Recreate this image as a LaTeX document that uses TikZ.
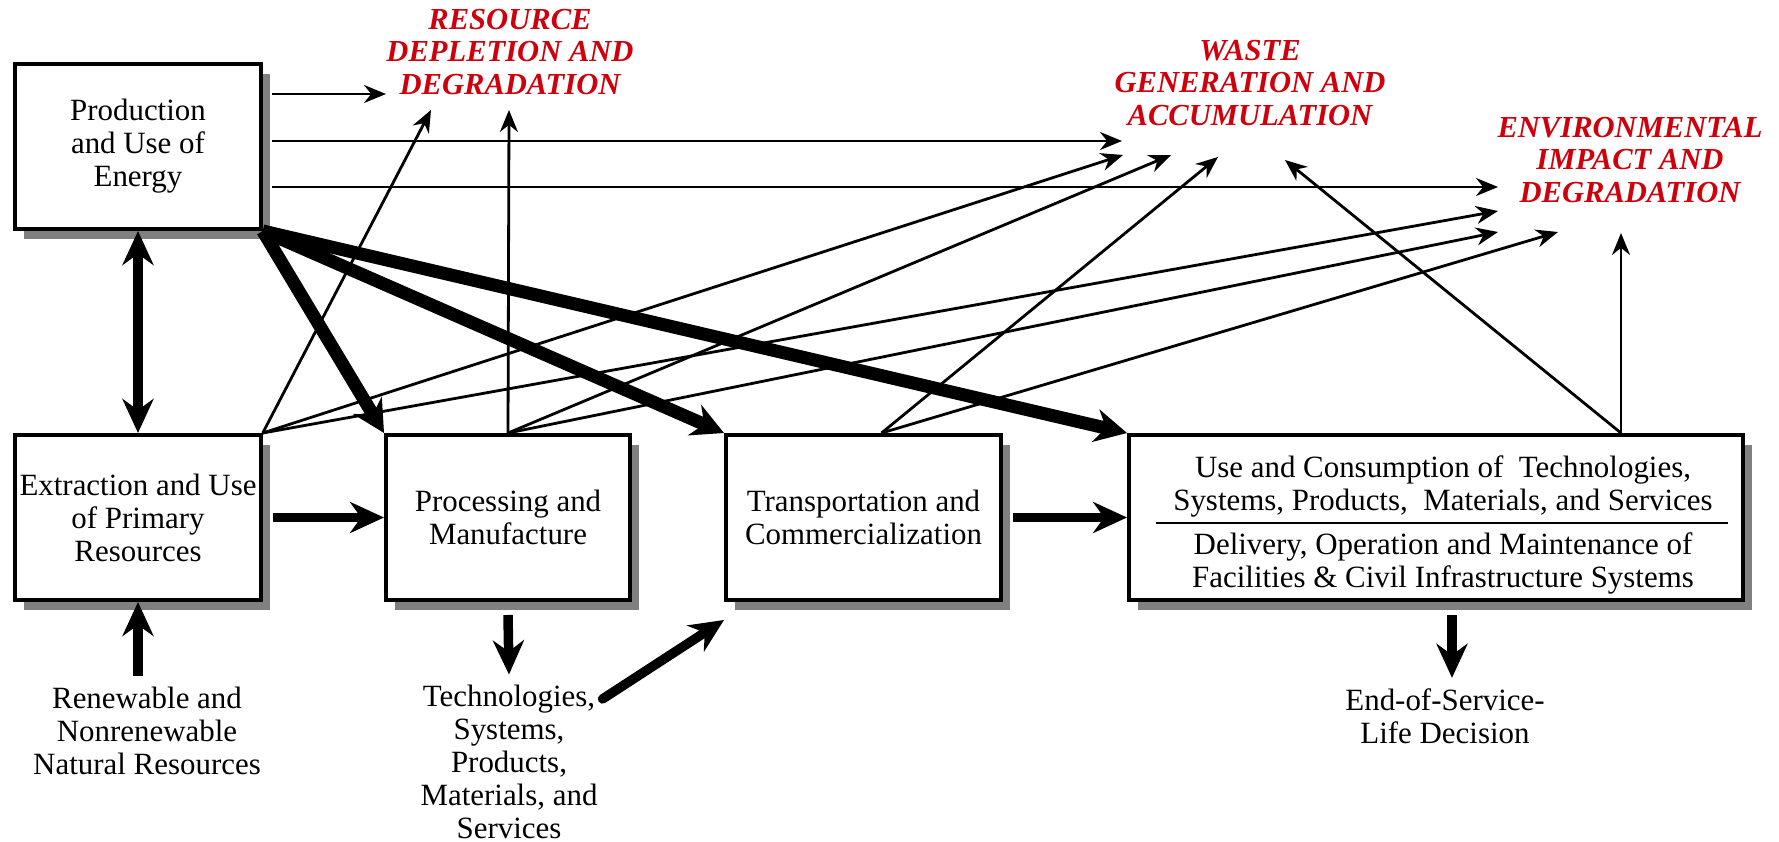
\documentclass[tikz,border=0pt]{standalone}
\usepackage{fontspec}
\setmainfont{Liberation Serif}
\usetikzlibrary{arrows.meta, positioning, shadows}
\definecolor{deepred}{RGB}{206,0,12}

\begin{document}
\begin{tikzpicture}[x=0.02cm, y=-0.02cm,
  font=\fontsize{17.6}{18.8}\selectfont,
  box/.style={draw, line width=0.07cm, fill=white, align=center, inner sep=1pt,
    drop shadow={shadow xshift=0.18cm, shadow yshift=-0.2cm, fill=black!50, opacity=1}},
  label/.style={align=center, inner sep=1pt},
  alert/.style={text=deepred, font=\fontsize{17.4}{18.6}\selectfont\bfseries\itshape, align=center, inner sep=1pt},
  flow/.style={line width=0.056cm, -{Stealth[length=0.44cm, width=0.36cm]}},
  bigtip/.tip={Stealth[length=0.68cm, width=0.62cm]},
  bigflow/.style={line width=0.19cm},
  heavyflow/.style={line width=0.26cm, -{Stealth[length=0.64cm, width=0.66cm]}}]
\useasboundingbox (0,0) rectangle (1779,842);

\node[box, minimum width=4.92cm, minimum height=3.31cm] (energy) at (138,146.5) {Production\\and Use of\\Energy};
\node[box, minimum width=4.92cm, minimum height=3.31cm] (extr) at (138,517.5) {Extraction and Use\\of Primary\\Resources};
\node[box, minimum width=4.89cm, minimum height=3.31cm] (proc) at (508,517.5) {Processing and\\Manufacture};
\node[box, minimum width=5.51cm, minimum height=3.31cm] (trans) at (863.5,517.5) {Transportation and\\Commercialization};
\node[box, minimum width=12.29cm, minimum height=3.31cm] (use) at (1436,517.5) {};
\node[label] (usetop) at (1443,486) {Use and Consumption of~ Technologies,\\Systems, Products,~ Materials, and Services};
\node[label] (usebot) at (1443,563) {Delivery, Operation and Maintenance of\\Facilities \& Civil Infrastructure Systems};
\coordinate (div1) at (1156,523);
\coordinate (div2) at (1728,523);
\draw[line width=0.04cm] (div1) -- (div2);

\node[alert] (res) at (510,52) {RESOURCE\\DEPLETION AND\\DEGRADATION};
\node[alert] (waste) at (1250,83) {WASTE\\GENERATION AND\\ACCUMULATION};
\node[alert] (env) at (1630,160) {ENVIRONMENTAL\\IMPACT AND\\DEGRADATION};

\node[label] (renew) at (147,731) {Renewable and\\Nonrenewable\\Natural Resources};
\node[label] (tech) at (509,762) {Technologies,\\Systems,\\Products,\\Materials, and\\Services};
\node[label] (eos) at (1445,716) {End-of-Service-\\Life Decision};

\coordinate (rd1) at (386,94);
\coordinate (rd2) at (431,110);
\coordinate (rd3) at (509,110);
\coordinate (wg1) at (1122,141);
\coordinate (wg2) at (1123,155);
\coordinate (wg3) at (1171,155);
\coordinate (wg4) at (1218,157);
\coordinate (wg5) at (1285,160);
\coordinate (ei1) at (1498,187);
\coordinate (ei2) at (1498,211);
\coordinate (ei3) at (1498,232);
\coordinate (ei4) at (1558,232);
\coordinate (ei5) at (1621,233);

\foreach \t in {rd1,wg1,ei1}
  \draw[flow] ([xshift=0.18cm]energy.east |- \t) -- (\t);
\foreach \t in {rd2,wg2,ei2}
  \draw[flow] (extr.north east) -- (\t);
\foreach \t in {rd3,wg3,ei3}
  \draw[flow] (proc.north) -- (\t);
\foreach \t in {wg4,ei4}
  \draw[flow] ([xshift=0.36cm]trans.north) -- (\t);
\foreach \t in {wg5,ei5}
  \draw[flow] (ei5 |- use.north) -- (\t);

\foreach \b in {proc,trans,use}
  \draw[heavyflow] (energy.south east) -- (\b.north west);

\draw[bigflow, bigtip-bigtip] (energy.south) -- (extr.north);
\draw[bigflow, -bigtip] ([xshift=0.2cm]extr.east) -- (proc.west);
\draw[bigflow, -bigtip] ([xshift=0.2cm]trans.east) -- (use.west);
\draw[bigflow, -bigtip] ([yshift=0.17cm]renew.north -| extr.south) -- (extr.south);
\draw[bigflow, -bigtip] ([yshift=-0.26cm]proc.south) -- ([yshift=0.17cm]tech.north);
\draw[bigflow, -bigtip] ([xshift=0.32cm, yshift=-0.26cm]use.south) -- ([xshift=0.32cm, yshift=0.17cm]use.south |- eos.north);
\draw[bigflow, -bigtip, line cap=round] ([xshift=0.06cm, yshift=-0.32cm]tech.north east) -- ([yshift=-0.36cm]trans.south west);
\end{tikzpicture}
\end{document}
